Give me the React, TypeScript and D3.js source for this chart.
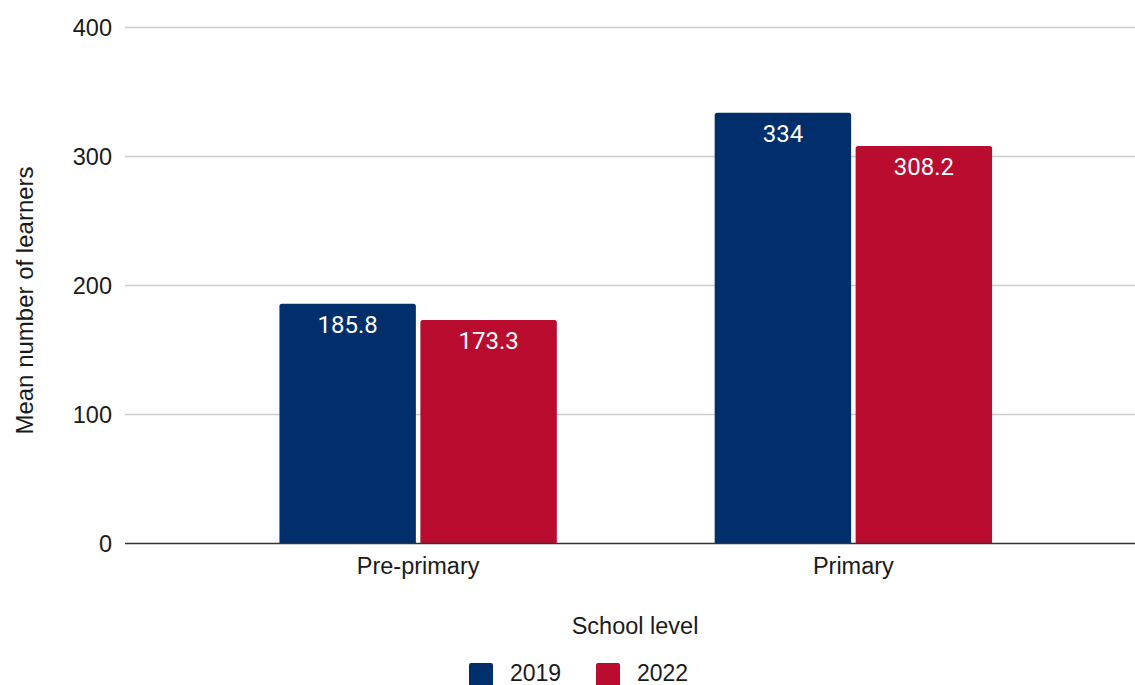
import React from "react";
import * as d3 from "d3";

// School levels and the mean learner counts per survey year
const categories = ["Pre-primary", "Primary"];
const seriesNames = ["2019", "2022"];
const values2019 = [185.8, 334];
const values2022 = [173.3, 308.2];
const yTicks = [0, 100, 200, 300, 400];

const colors = ["#002F6C", "#BA0C2F"];

const W = 1135;
const H = 685;
const FONT = "'Liberation Sans', Arial, Helvetica, sans-serif";

function topRoundedRect(x: number, y: number, w: number, h: number, r: number) {
  const rr = Math.min(r, h, w / 2);
  return `M${x},${y + h}V${y + rr}Q${x},${y} ${x + rr},${y}H${x + w - rr}Q${x + w},${y} ${x + w},${y + rr}V${y + h}Z`;
}

export default function App() {
  const y = d3.scaleLinear().domain([0, 400]).range([543.5, 27.5]);
  const x0 = d3
    .scaleBand<string>()
    .domain(categories)
    .range([200.5, 1071])
    .paddingInner(0.3627)
    .paddingOuter(0.3627 / 2);
  const x1 = d3
    .scaleBand<string>()
    .domain(seriesNames)
    .range([0, x0.bandwidth()])
    .paddingInner(0.032);

  const seriesValues = [values2019, values2022];
  const gridLeft = 125;

  return (
    <svg
      width={W}
      height={H}
      style={{ position: "absolute", left: 0, top: 0, background: "#fff" }}
    >
      {/* horizontal gridlines and y tick labels */}
      {yTicks.map((t) => (
        <g key={t}>
          {t !== 0 && (
            <line x1={gridLeft} x2={W} y1={y(t)} y2={y(t)} stroke="#cccccc" strokeWidth={1.4} />
          )}
          <text
            x={112}
            y={y(t)}
            dy="0.36em"
            textAnchor="end"
            fontFamily={FONT}
            fontSize={23.5}
            fill="#1a1a1a"
          >
            {t}
          </text>
        </g>
      ))}

      {/* bars */}
      {categories.map((c, ci) => (
        <g key={c} transform={`translate(${x0(c)},0)`}>
          {seriesNames.map((s, si) => {
            const v = seriesValues[si][ci];
            const bx = x1(s) as number;
            const bw = x1.bandwidth();
            return (
              <g key={s}>
                <path d={topRoundedRect(bx, y(v), bw, y(0) - y(v), 2.5)} fill={colors[si]} />
                <text
                  x={bx + bw / 2}
                  y={y(v) + 29.5}
                  textAnchor="middle"
                  fontFamily="Roboto, 'Liberation Sans', sans-serif"
                  fontSize={24}
                  fill="#ffffff"
                >
                  {v}
                </text>
              </g>
            );
          })}
        </g>
      ))}

      {/* baseline */}
      <line x1={gridLeft} x2={W} y1={y(0)} y2={y(0)} stroke="#333" strokeWidth={1.6} />

      {/* category labels */}
      {categories.map((c) => (
        <text
          key={c}
          x={(x0(c) as number) + x0.bandwidth() / 2}
          y={574}
          textAnchor="middle"
          fontFamily={FONT}
          fontSize={23.5}
          fill="#1a1a1a"
        >
          {c}
        </text>
      ))}

      {/* axis titles */}
      <text
        x={635}
        y={634}
        textAnchor="middle"
        fontFamily={FONT}
        fontSize={23.5}
        fill="#1a1a1a"
      >
        School level
      </text>
      <text
        transform="translate(33,300.5) rotate(-90)"
        textAnchor="middle"
        fontFamily={FONT}
        fontSize={24}
        fill="#1a1a1a"
      >
        Mean number of learners
      </text>

      {/* legend */}
      {seriesNames.map((s, i) => {
        const lx = [469, 596][i];
        return (
          <g key={s}>
            <rect x={lx} y={663} width={24} height={24} rx={2} fill={colors[i]} />
            <text x={lx + 41} y={681} fontFamily={FONT} fontSize={23} fill="#1a1a1a">
              {s}
            </text>
          </g>
        );
      })}
    </svg>
  );
}
